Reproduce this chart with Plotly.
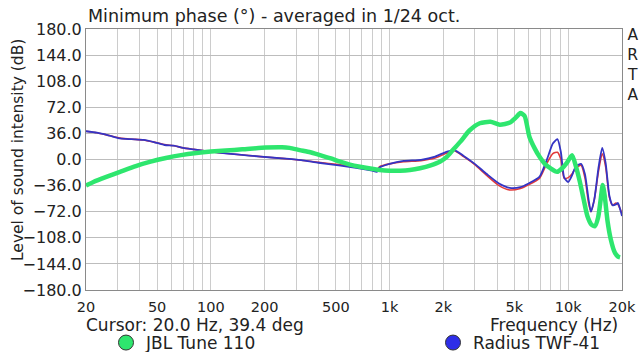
import math
import plotly.graph_objects as go

# ---------------- data ----------------
blue_freq = [20, 23, 27, 31, 36, 42, 48, 55, 62, 70, 80, 92, 110, 140, 190, 250, 320, 400, 520, 650, 800, 850,
             880, 1000, 1200, 1500, 1800, 2100, 2300, 2600, 3000, 3500, 4100, 4700, 5400, 6000, 6900, 7600,
             8200, 8700, 9100, 9500, 10000, 10500, 11000, 11800, 12400, 13000, 13400, 14000, 14800, 15500,
             16200, 17000, 17700, 18500, 19000, 19500, 20000]
blue_phase = [39, 37, 33, 29, 28, 27, 24, 20, 19, 16, 14, 12, 9.5, 7, 4, 1.5, -1, -4.5, -8, -11.5, -15.5, -17,
              -11, -6, -2, -0.5, 4, 11, 13, 5, -6, -20, -33, -39, -38, -33, -24, 0,
              22, 28, 10, -25, -31, -22, -10, -6, -20, -55, -72, -55, -10, 16,
              -5, -50, -63, -62, -60, -68, -78]

red_freq = blue_freq
red_phase = [39, 37, 33, 29.5, 28, 27, 24, 20.5, 19, 16, 14, 12, 9.5, 7, 4, 1.5, -1, -4, -7, -10, -12, -14,
             -10, -6, -3, -1.5, 2, 9, 12, 4, -7, -22, -36, -42, -40, -35, -26, -5,
             8, 10, 0, -26, -25, -20, -12, -8, -25, -60, -72, -55, -15, 8,
             -10, -52, -63, -60, -62, -68, -74]

green_freq = [20, 22, 26, 31, 38, 46, 56, 68, 83, 100, 121, 150, 203, 250, 276, 314, 360, 408, 470, 528, 600,
              683, 780, 880, 1000, 1144, 1300, 1480, 1700, 1912, 2100, 2260, 2500, 2800, 3200, 3670, 4140,
              4720, 5100, 5400, 5700, 6070, 6500, 6940, 7400, 7940, 8660, 9260, 9800, 10500, 11000, 11600,
              12200, 12800, 13500, 14100, 14700, 15200, 15600, 16000, 16600, 17300, 18200, 19000, 19500]
green_phase = [-36, -31, -24, -17, -9, -3, 2, 6, 9, 11, 12.5, 14, 16.5, 17, 16, 13, 10, 6, 1.5, -3, -7,
               -10, -12.5, -14.5, -15.5, -15.5, -14.5, -12, -8, -3, 4, 13, 25, 40, 50, 52, 48,
               51, 58, 64, 60, 31, 15, 3, -6, -12, -17, -12, -5, 6, -8, -30,
               -55, -78, -90, -92, -80, -55, -35, -50, -85, -110, -128, -134, -135]

x_tick_vals = [20, 50, 100, 200, 500, 1000, 2000, 5000, 10000, 20000]
x_tick_text = ["20", "50", "100", "200", "500", "1k", "2k", "5k", "10k", "20k"]
x_minor_vals = [30, 40, 60, 70, 80, 90, 300, 400, 600, 700, 800, 900,
                3000, 4000, 6000, 7000, 8000, 9000]
x_major_lines = [100, 1000, 10000]
y_tick_vals = [-180, -144, -108, -72, -36, 0, 36, 72, 108, 144, 180]

legend_names = ["JBL Tune 110", "Radius TWF-41"]

GREEN = "#2ee66e"
BLUE = "#3434c4"
RED = "#e23a3a"
FONT = "DejaVu Sans"

PL, PR, PT, PB = 86, 622, 29, 290   # plot area in page pixels
W, H = 640, 352
PW, PH = PR - PL, PB - PT


def px(x):
    return (x - PL) / PW


def py(y):
    return (PB - y) / PH


fig = go.Figure()
fig.add_trace(go.Scatter(x=red_freq, y=red_phase, mode="lines", line=dict(color=RED, width=1.6, shape="spline", smoothing=0.6),
                         showlegend=False, hoverinfo="skip"))
fig.add_trace(go.Scatter(x=blue_freq, y=blue_phase, mode="lines", line=dict(color=BLUE, width=1.8, shape="spline", smoothing=0.6),
                         showlegend=False, hoverinfo="skip"))
fig.add_trace(go.Scatter(x=green_freq, y=green_phase, mode="lines", line=dict(color=GREEN, width=4.5, shape="spline", smoothing=0.6),
                         showlegend=False, hoverinfo="skip"))
# legend entries
fig.add_trace(go.Scatter(x=[None], y=[None], mode="markers", name=legend_names[0], legend="legend",
                         marker=dict(color=GREEN, size=15, line=dict(color="#333333", width=1))))
fig.add_trace(go.Scatter(x=[None], y=[None], mode="markers", name=legend_names[1], legend="legend2",
                         marker=dict(color="#2e2ee8", size=15, line=dict(color="#333333", width=1))))

for v in x_major_lines:
    fig.add_shape(type="line", xref="x", yref="paper", x0=math.log10(v), x1=math.log10(v), y0=0, y1=1,
                  line=dict(color="#8c8c8c", width=1), layer="below")

leg_common = dict(orientation="h", xanchor="left", yanchor="middle", font=dict(size=17, family=FONT),
                  bgcolor="rgba(0,0,0,0)", itemclick=False, borderwidth=0)

fig.update_layout(
    width=W, height=H,
    margin=dict(l=PL, r=W - PR, t=PT, b=H - PB, autoexpand=False),
    paper_bgcolor="white", plot_bgcolor="white",
    font=dict(family=FONT, size=15, color="#222222"),
    showlegend=True,
    legend=dict(x=px(106), y=py(343), **leg_common),
    legend2=dict(x=px(433), y=py(343), **leg_common),
    xaxis=dict(type="log", range=[math.log10(20), math.log10(20000)],
               tickmode="array", tickvals=x_tick_vals, ticktext=x_tick_text,
               showgrid=True, gridcolor="#cccccc", gridwidth=1,
               minor=dict(tickmode="array", tickvals=x_minor_vals, showgrid=True, gridcolor="#cccccc", ticks=""),
               ticks="", showline=True, linecolor="#8a8a8a", mirror=True, zeroline=False,
               ticklabelstandoff=4,
               tickfont=dict(size=14.5, family=FONT)),
    yaxis=dict(range=[-180, 180], tickmode="array", tickvals=y_tick_vals, tickformat=".1f",
               showgrid=True, gridcolor="#bdbdbd", gridwidth=1, zeroline=False,
               ticks="", showline=True, linecolor="#8a8a8a", mirror=True,
               tickfont=dict(size=16, family=FONT)),
    annotations=[
        dict(text="Minimum phase (°) - averaged in 1/24 oct.", xref="paper", yref="paper", x=0, y=1,
             xanchor="left", yanchor="bottom", yshift=1, showarrow=False, font=dict(size=17.5, family=FONT)),
        dict(text="Level of sound intensity (dB)", xref="paper", yref="paper", x=px(18), y=py(150),
             xanchor="center", yanchor="middle", textangle=-90, showarrow=False, font=dict(size=15.5, family=FONT)),
        dict(text="A<br>R<br>T<br>A", xref="paper", yref="paper", x=px(632), y=1,
             xanchor="center", yanchor="top", yshift=5, showarrow=False, font=dict(size=15.5, family=FONT)),
        dict(text="Cursor: 20.0 Hz, 39.4 deg", xref="paper", yref="paper", x=px(195), y=py(325),
             xanchor="center", yanchor="middle", showarrow=False, font=dict(size=17, family=FONT)),
        dict(text="Frequency (Hz)", xref="paper", yref="paper", x=px(620), y=py(325),
             xanchor="right", yanchor="middle", showarrow=False, font=dict(size=17, family=FONT)),
    ],
)

fig.write_html("out.html", config={"displayModeBar": False},
               post_script="document.body.style.margin='0';document.body.style.overflow='hidden';")
